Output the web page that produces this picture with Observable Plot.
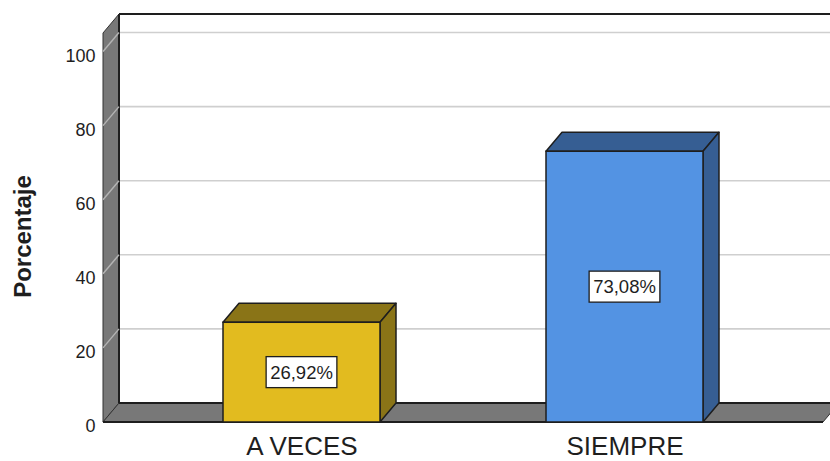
<!DOCTYPE html>
<html>
<head>
<meta charset="utf-8">
<script src="https://cdn.jsdelivr.net/npm/d3@7"></script>
<script src="https://cdn.jsdelivr.net/npm/@observablehq/plot@0.6"></script>
<style>
  html, body { margin: 0; padding: 0; background: #fff; }
  #chart svg { display: block; }
</style>
</head>
<body>
<div id="chart"></div>
<script>
// ---- data ----
const categories = ["A VECES", "SIEMPRE"];
const percentages = [26.92, 73.08];
const yTicks = [0, 20, 40, 60, 80, 100];
const yMax = 105;

// ---- styles ----
const frontColors = ["#E2BB1F", "#5393E3"];
const darkColors = ["#8A7417", "#365E93"];
const DX = 16, DY = -19;              // 3D depth offset (px)
const FONT = "Liberation Sans, Arial, Helvetica, sans-serif";
const INK = "#1e1e1e";

const data = categories.map((c, i) => ({category: c, value: percentages[i], dark: darkColors[i]}));
const fmt = v => v.toFixed(2).replace(".", ",") + "%";

// walls, floor, gridlines drawn from the plot's own scales / dimensions
function wallsMark(index, scales, values, dim) {
  const y = scales.y;
  const xl = dim.marginLeft, xr = dim.width - dim.marginRight;
  const y0 = y(0), yt = y(yMax);
  const g = d3.create("svg:g");
  const pts = a => a.map(p => p.join(",")).join(" ");
  for (const t of yTicks.slice(1)) {
    g.append("line").attr("x1", xl + DX).attr("x2", dim.width + 20)
      .attr("y1", y(t) + DY).attr("y2", y(t) + DY)
      .attr("stroke", "#cfcfcf").attr("stroke-width", 1.6);
  }
  g.append("line").attr("x1", xl + DX).attr("x2", dim.width + 20)
    .attr("y1", yt + DY).attr("y2", yt + DY)
    .attr("stroke", INK).attr("stroke-width", 1.8);
  g.append("polygon")
    .attr("points", pts([[xl, y0], [xl, yt], [xl + DX, yt + DY], [xl + DX, y0 + DY]]))
    .attr("fill", "#787878").attr("stroke", "#333").attr("stroke-width", 1);
  g.append("line").attr("x1", xl + DX).attr("x2", xl + DX)
    .attr("y1", yt + DY).attr("y2", y0 + DY)
    .attr("stroke", INK).attr("stroke-width", 2);
  for (const t of yTicks.slice(1)) {
    g.append("line").attr("x1", xl).attr("x2", xl + DX)
      .attr("y1", y(t)).attr("y2", y(t) + DY)
      .attr("stroke", "#b4b4b4").attr("stroke-width", 1.4);
  }
  g.append("polygon")
    .attr("points", pts([[xl, y0], [xr, y0], [xr + DX, y0 + DY], [xl + DX, y0 + DY]]))
    .attr("fill", "#787878").attr("stroke", "#333").attr("stroke-width", 1);
  g.append("line").attr("x1", xl + DX).attr("x2", xr + DX)
    .attr("y1", y0 + DY).attr("y2", y0 + DY)
    .attr("stroke", INK).attr("stroke-width", 2);
  g.append("line").attr("x1", xl).attr("x2", xr)
    .attr("y1", y0).attr("y2", y0)
    .attr("stroke", INK).attr("stroke-width", 2.2);
  return g.node();
}

// bar top and side faces
function barDepthMark(index, scales, values, dim) {
  const {x, y} = scales;
  const bw = typeof x.bandwidth === "function" ? x.bandwidth() : 0;
  const g = d3.create("svg:g");
  const pts = a => a.map(p => p.join(",")).join(" ");
  for (const d of data) {
    const x0 = x(d.category), x1 = x0 + bw, yt = y(d.value), yb = y(0);
    g.append("polygon")
      .attr("points", pts([[x0, yt], [x1, yt], [x1 + DX, yt + DY], [x0 + DX, yt + DY]]))
      .attr("fill", d.dark).attr("stroke", INK).attr("stroke-width", 1.5).attr("stroke-linejoin", "round");
    g.append("polygon")
      .attr("points", pts([[x1, yt], [x1 + DX, yt + DY], [x1 + DX, yb + DY], [x1, yb]]))
      .attr("fill", d.dark).attr("stroke", INK).attr("stroke-width", 1.5).attr("stroke-linejoin", "round");
  }
  return g.node();
}

// value labels with boxes
function labelMark(index, scales, values, dim) {
  const {x, y} = scales;
  const bw = typeof x.bandwidth === "function" ? x.bandwidth() : 0;
  const fs = 18.5;
  const ctx = document.createElement("canvas").getContext("2d");
  ctx.font = `${fs}px ${FONT}`;
  const g = d3.create("svg:g");
  for (const d of data) {
    const cx = x(d.category) + bw / 2;
    const cy = (y(d.value) + y(0)) / 2;
    const txt = fmt(d.value);
    const w = ctx.measureText(txt).width + 8, h = 31;
    g.append("rect").attr("x", cx - w / 2).attr("y", cy - h / 2)
      .attr("width", w).attr("height", h)
      .attr("fill", "#fff").attr("stroke", INK).attr("stroke-width", 1.3);
    g.append("text").attr("x", cx).attr("y", cy).attr("dy", "0.35em")
      .attr("text-anchor", "middle").attr("font-size", fs)
      .attr("font-family", FONT).attr("fill", INK).text(txt);
  }
  return g.node();
}

const chart = Plot.plot({
  width: 830,
  height: 461,
  marginLeft: 103,
  marginRight: 7,
  marginTop: 33,
  marginBottom: 39,
  style: {fontFamily: FONT, color: INK, background: "#fff", overflow: "hidden"},
  x: {domain: categories, paddingInner: 0.514, paddingOuter: 0.3715, label: null},
  y: {domain: [0, yMax], label: null},
  color: {domain: categories, range: frontColors},
  marks: [
    wallsMark,
    barDepthMark,
    Plot.barY(data, {x: "category", y: "value", fill: "category", stroke: INK, strokeWidth: 1.5}),
    labelMark,
    Plot.axisY({ticks: yTicks, tickSize: 0, tickPadding: 8, fontSize: 18, dy: 4, label: null}),
    Plot.axisX({tickSize: 0, tickPadding: 14.5, fontSize: 26, label: null}),
    Plot.text(["Porcentaje"], {frameAnchor: "left", text: d => d, rotate: -90, dx: -80, dy: 8.5,
      textAnchor: "middle", lineAnchor: "middle", fontSize: 24, fontWeight: "bold"})
  ]
});
document.getElementById("chart").appendChild(chart);
</script>
</body>
</html>
